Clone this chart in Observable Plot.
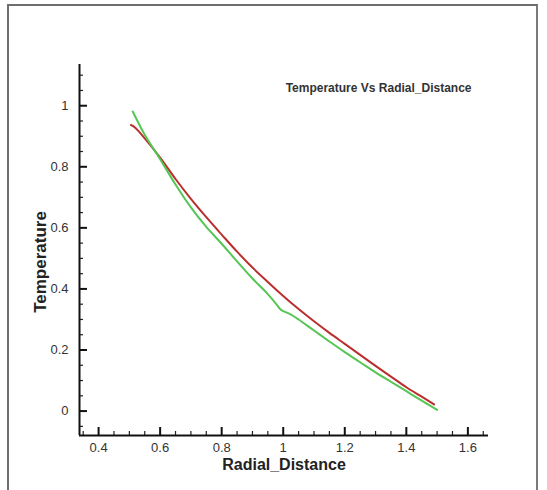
<!DOCTYPE html>
<html>
<head>
<meta charset="utf-8">
<script src="https://cdn.jsdelivr.net/npm/d3@7"></script>
<script src="https://cdn.jsdelivr.net/npm/@observablehq/plot@0.6"></script>
<style>
  html, body { margin: 0; padding: 0; background: #fff; }
  #wrap { position: relative; width: 547px; height: 490px; overflow: hidden; }
  #border { position: absolute; left: 7px; top: 4px; width: 531px; height: 500px;
            border-left: 2px solid #6e6e6e; border-top: 2px solid #6e6e6e; border-right: 2px solid #7a7a7a; box-sizing: border-box; }
  #chart { position: absolute; left: 0; top: 0; }
</style>
</head>
<body>
<div id="wrap"><div id="border"></div><div id="chart"></div></div>
<script>
// Series 1 (red)
const redX = [0.505, 0.52, 0.55, 0.6, 0.65, 0.7, 0.75, 0.8, 0.85, 0.9, 0.95, 1.0, 1.05, 1.1, 1.15, 1.2, 1.25, 1.3, 1.35, 1.4, 1.45, 1.49];
const redY = [0.937, 0.927, 0.893, 0.83, 0.76, 0.695, 0.635, 0.578, 0.522, 0.47, 0.423, 0.377, 0.334, 0.294, 0.256, 0.22, 0.184, 0.148, 0.113, 0.078, 0.047, 0.022];
// Series 2 (green)
const greenX = [0.511, 0.55, 0.6, 0.65, 0.7, 0.75, 0.8, 0.85, 0.9, 0.95, 0.98, 0.99, 1.0, 1.01, 1.03, 1.05, 1.1, 1.15, 1.2, 1.25, 1.3, 1.35, 1.4, 1.45, 1.5];
const greenY = [0.981, 0.905, 0.825, 0.742, 0.667, 0.603, 0.548, 0.49, 0.434, 0.383, 0.347, 0.334, 0.327, 0.323, 0.313, 0.3, 0.264, 0.228, 0.193, 0.16, 0.127, 0.096, 0.065, 0.034, 0.004];

const xMajor = [0.4, 0.6, 0.8, 1, 1.2, 1.4, 1.6];
const xMinor = [0.35, 0.45, 0.5, 0.55, 0.65, 0.7, 0.75, 0.85, 0.9, 0.95, 1.05, 1.1, 1.15, 1.25, 1.3, 1.35, 1.45, 1.5, 1.55, 1.65];
const yMajor = [0, 0.2, 0.4, 0.6, 0.8, 1];
const yMinor = [-0.05, 0.05, 0.1, 0.15, 0.25, 0.3, 0.35, 0.45, 0.5, 0.55, 0.65, 0.7, 0.75, 0.85, 0.9, 0.95, 1.05, 1.1];
const xDomain = [0.338, 1.667];
const yDomain = [-0.08, 1.135];

const title = "Temperature Vs Radial_Distance";
const xLabel = "Radial_Distance";
const yLabel = "Temperature";

const red = redX.map((x, i) => ({x, y: redY[i]}));
const green = greenX.map((x, i) => ({x, y: greenY[i]}));

const plot = Plot.plot({
  width: 547,
  height: 490,
  marginLeft: 79,
  marginRight: 59,
  marginTop: 64,
  marginBottom: 55,
  style: {fontFamily: "'Liberation Sans', Arial, sans-serif", background: "transparent", color: "#222"},
  x: {domain: xDomain},
  y: {domain: yDomain},
  marks: [
    Plot.axisX({ticks: xMinor, tickSize: -4, tickFormat: () => "", strokeWidth: 1.2, stroke: "#222", label: null}),
    Plot.axisY({ticks: yMinor, tickSize: -4, tickFormat: () => "", strokeWidth: 1.2, stroke: "#222", label: null}),
    Plot.axisX({ticks: xMajor, tickSize: -8, tickPadding: 15, strokeWidth: 2, stroke: "#111", fill: "#333", fontSize: 13, tickFormat: d => String(d), label: null}),
    Plot.axisY({ticks: yMajor, tickSize: -8, tickPadding: 19, strokeWidth: 2, stroke: "#111", fill: "#333", fontSize: 13, tickFormat: d => String(d), label: null}),
    Plot.ruleX([xDomain[0]], {stroke: "#111", strokeWidth: 2}),
    Plot.ruleY([yDomain[0]], {stroke: "#111", strokeWidth: 2}),
    Plot.line(red, {x: "x", y: "y", stroke: "#b8302e", strokeWidth: 2, curve: "catmull-rom"}),
    Plot.line(green, {x: "x", y: "y", stroke: "#55c653", strokeWidth: 2, curve: "catmull-rom"}),
    Plot.text([title], {frameAnchor: "top-right", dx: -17, dy: 24, lineAnchor: "middle", textAnchor: "end", text: d => d, fontSize: 12, fontWeight: "bold", fill: "#333"}),
    Plot.text([xLabel], {frameAnchor: "bottom", dy: 29, lineAnchor: "middle", textAnchor: "middle", text: d => d, fontSize: 16, fontWeight: "bold", fill: "#222"}),
    Plot.text([yLabel], {frameAnchor: "left", dx: -39, dy: 12, rotate: -90, lineAnchor: "middle", textAnchor: "middle", text: d => d, fontSize: 17, fontWeight: "bold", fill: "#222"})
  ]
});
document.getElementById("chart").appendChild(plot);
</script>
</body>
</html>
